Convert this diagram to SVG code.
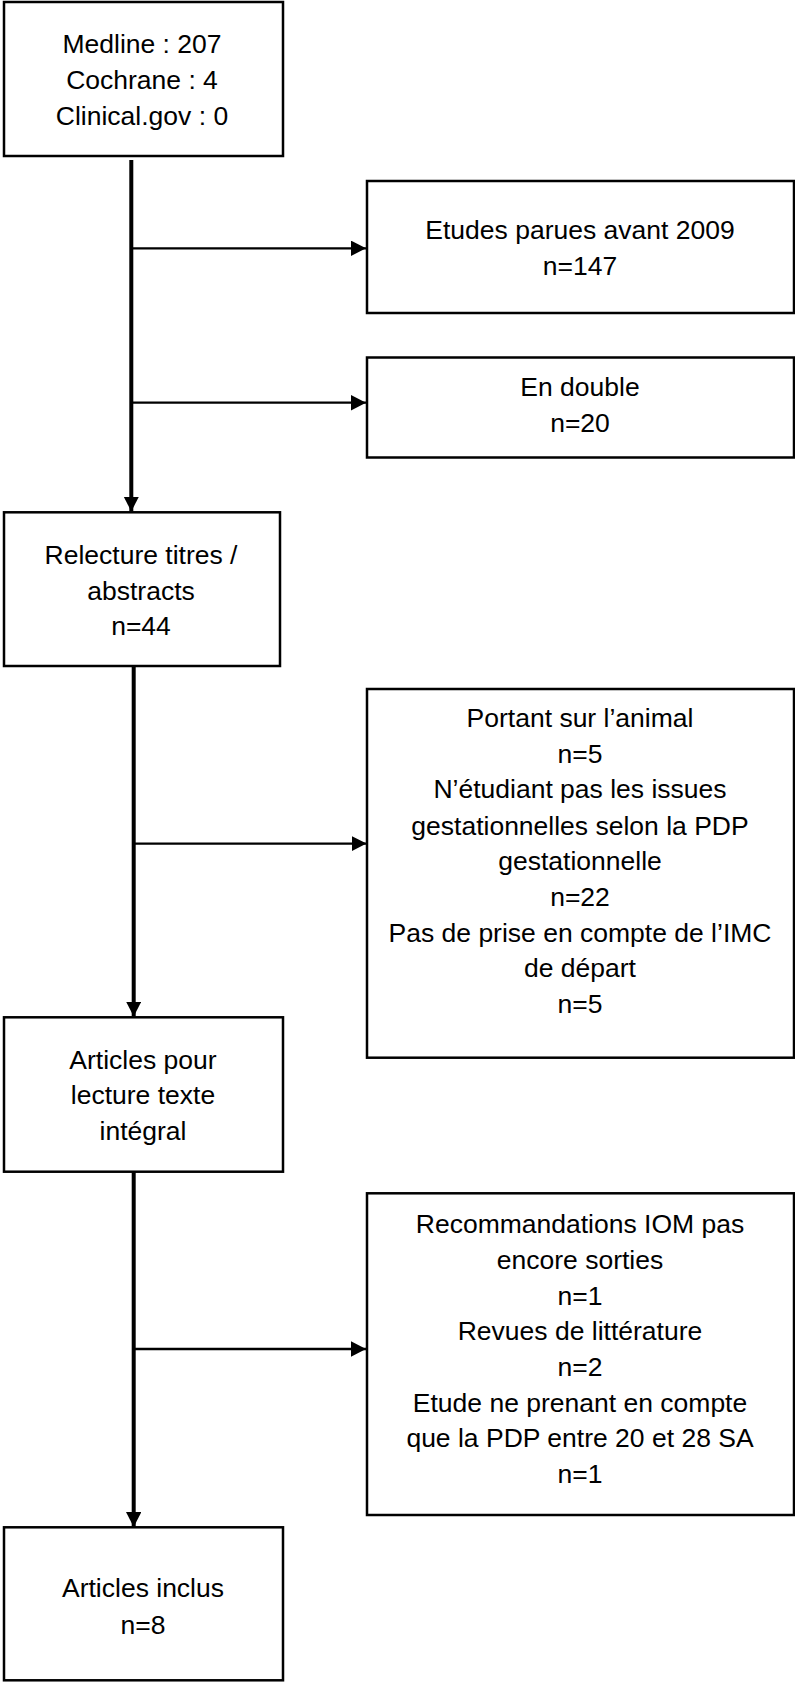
<svg xmlns="http://www.w3.org/2000/svg" width="795" height="1682" viewBox="0 0 795 1682">
<style>
.box{fill:#fff;stroke:#000;stroke-width:2.5}
.t{font-family:"Liberation Sans",Arial,sans-serif;font-size:26.5px;fill:#000;text-anchor:middle}
.main{stroke:#000;stroke-width:4;fill:none}
.br{stroke:#000;stroke-width:2.3;fill:none}
</style>
<defs>
<marker id="ah" markerUnits="userSpaceOnUse" markerWidth="16" markerHeight="16" refX="15" refY="7.7" orient="auto" viewBox="0 0 16 16">
<path d="M0,0 L15,7.7 L0,15.4 z" fill="#000"/>
</marker>
</defs>
<rect width="795" height="1682" fill="#fff"/>
<g id="connectors">
<line class="main" x1="131.3" y1="160" x2="131.3" y2="511.5" marker-end="url(#ah)"/>
<line class="br" x1="131.3" y1="248.3" x2="366" y2="248.3" marker-end="url(#ah)"/>
<line class="br" x1="131.3" y1="402.7" x2="366" y2="402.7" marker-end="url(#ah)"/>
<line class="main" x1="133.7" y1="666" x2="133.7" y2="1016.5" marker-end="url(#ah)"/>
<line class="br" x1="133.7" y1="843.6" x2="366.5" y2="843.6" marker-end="url(#ah)"/>
<line class="main" x1="133.7" y1="1171" x2="133.7" y2="1527" marker-end="url(#ah)"/>
<line class="br" x1="133.7" y1="1349" x2="366" y2="1349" marker-end="url(#ah)"/>
</g>
<g id="n1">
<rect class="box" x="4" y="2" width="279" height="154"/>
<text class="t" x="142" y="53.3">Medline : 207</text>
<text class="t" x="142" y="89.3">Cochrane : 4</text>
<text class="t" x="142" y="125">Clinical.gov : 0</text>
</g>
<g id="n2">
<rect class="box" x="367" y="181" width="427" height="132"/>
<text class="t" x="580" y="239.3">Etudes parues avant 2009</text>
<text class="t" x="580" y="275">n=147</text>
</g>
<g id="n3">
<rect class="box" x="367" y="357.5" width="427" height="100"/>
<text class="t" x="580" y="396">En double</text>
<text class="t" x="580" y="431.7">n=20</text>
</g>
<g id="n4">
<rect class="box" x="4" y="512.3" width="276" height="153.7"/>
<text class="t" x="141" y="564">Relecture titres /</text>
<text class="t" x="141" y="599.6">abstracts</text>
<text class="t" x="141" y="635.4">n=44</text>
</g>
<g id="n5">
<rect class="box" x="367" y="689" width="427" height="368.7"/>
<text class="t" x="580" y="727.3">Portant sur l’animal</text>
<text class="t" x="580" y="762.7">n=5</text>
<text class="t" x="580" y="798.3">N’étudiant pas les issues</text>
<text class="t" x="580" y="835">gestationnelles selon la PDP</text>
<text class="t" x="580" y="870">gestationnelle</text>
<text class="t" x="580" y="906">n=22</text>
<text class="t" x="580" y="941.7">Pas de prise en compte de l’IMC</text>
<text class="t" x="580" y="976.7">de départ</text>
<text class="t" x="580" y="1013.3">n=5</text>
</g>
<g id="n6">
<rect class="box" x="4" y="1017.3" width="279" height="154.4"/>
<text class="t" x="143" y="1069">Articles pour</text>
<text class="t" x="143" y="1104.3">lecture texte</text>
<text class="t" x="143" y="1140">intégral</text>
</g>
<g id="n7">
<rect class="box" x="367" y="1193.3" width="427" height="321.7"/>
<text class="t" x="580" y="1232.7">Recommandations IOM pas</text>
<text class="t" x="580" y="1269">encore sorties</text>
<text class="t" x="580" y="1305">n=1</text>
<text class="t" x="580" y="1340">Revues de littérature</text>
<text class="t" x="580" y="1375.7">n=2</text>
<text class="t" x="580" y="1411.7">Etude ne prenant en compte</text>
<text class="t" x="580" y="1447.3">que la PDP entre 20 et 28 SA</text>
<text class="t" x="580" y="1483.3">n=1</text>
</g>
<g id="n8">
<rect class="box" x="4" y="1527.3" width="279" height="153"/>
<text class="t" x="143" y="1597">Articles inclus</text>
<text class="t" x="143" y="1633.5">n=8</text>
</g>
</svg>
